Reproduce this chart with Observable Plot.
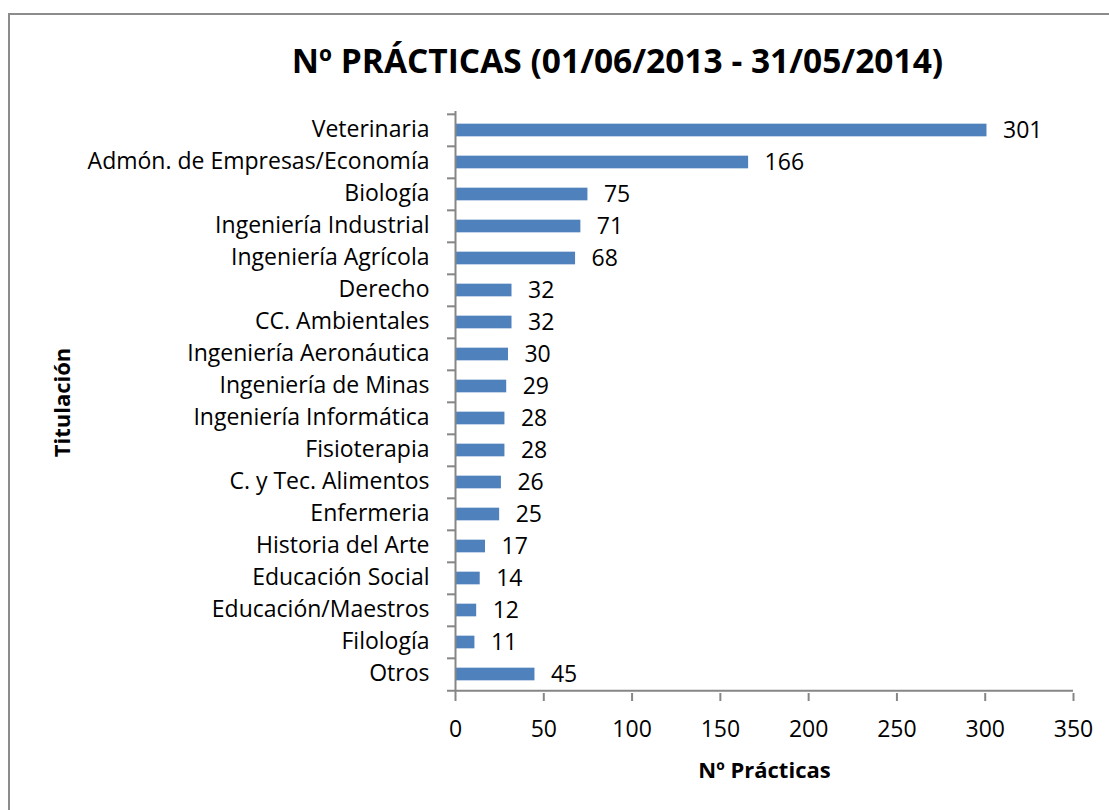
<!DOCTYPE html>
<html><head><meta charset="utf-8">
<script src="https://cdn.jsdelivr.net/npm/d3@7"></script>
<script src="https://cdn.jsdelivr.net/npm/@observablehq/plot@0.6"></script>
<style>
html,body{margin:0;padding:0;background:#fff;overflow:hidden;}
#wrap{position:relative;width:1109px;height:810px;overflow:hidden;background:#fff;}
#border{position:absolute;left:8px;top:13px;width:1200px;height:900px;border:2px solid #8c8c8c;}
#chart{position:absolute;left:0;top:0;}
</style></head><body>
<div id="wrap"><div id="border"></div><div id="chart"></div></div>
<script>
const categories = ["Veterinaria","Admón. de Empresas/Economía","Biología","Ingeniería Industrial","Ingeniería Agrícola","Derecho","CC. Ambientales","Ingeniería Aeronáutica","Ingeniería de Minas","Ingeniería Informática","Fisioterapia","C. y Tec. Alimentos","Enfermeria","Historia del Arte","Educación Social","Educación/Maestros","Filología","Otros"];
const values = [301,166,75,71,68,32,32,30,29,28,28,26,25,17,14,12,11,45];
const xTicks = [0,50,100,150,200,250,300,350];
const titleText = "Nº PRÁCTICAS (01/06/2013 - 31/05/2014)";
const xLabel = "Nº Prácticas";
const yLabel = "Titulación";

const data = categories.map((c,i)=>({cat:c, value:values[i]}));
const W=1109, H=810, mL=455, mR=36, mT=111, mB=117;
const fw = W-mL-mR, fh = H-mT-mB;
const step = fh/categories.length;
const barH = 13;
const font = "'Open Sans', sans-serif";
const axisColor = "#868686";
const barColor = "#4F81BD";
const fs = 23;

const plot = Plot.plot({
  width:W, height:H, marginLeft:mL, marginRight:mR, marginTop:mT, marginBottom:mB,
  style:{fontFamily:font, fontSize:fs+"px", color:"#000", background:"transparent", overflow:"visible"},
  x:{domain:[0,350]},
  y:{domain:categories, padding:0},
  marks:[
    Plot.barX(data,{x:"value", y:"cat", fill:barColor, insetTop:(step-barH)/2, insetBottom:(step-barH)/2}),
    Plot.ruleX([0],{stroke:axisColor, strokeWidth:2}),
    Plot.ruleY(categories,{y:d=>d, dy:-step/2, insetLeft:-8, insetRight:fw, stroke:axisColor, strokeWidth:2}),
    Plot.ruleY([categories[categories.length-1]],{y:d=>d, dy:step/2, insetLeft:-8, stroke:axisColor, strokeWidth:2}),
    Plot.ruleX(xTicks,{x:d=>d, insetTop:fh, insetBottom:-8, stroke:axisColor, strokeWidth:2}),
    Plot.axisX({ticks:xTicks, tickSize:0, tickPadding:27, tickFormat:d=>String(d), label:null, fontSize:fs, fill:"#000"}),
    Plot.axisY({tickSize:0, tickPadding:26, label:null, fontSize:fs, fill:"#000", dy:-1}),
    Plot.text(data,{x:"value", y:"cat", text:d=>String(d.value), textAnchor:"start", dx:16, dy:0, fontSize:fs, fill:"#000"}),
    Plot.text([titleText],{text:d=>d, frameAnchor:"top", lineAnchor:"middle", dx:-147, dy:-49, fontSize:33.5, fontWeight:"bold", fill:"#000"}),
    Plot.text([xLabel],{text:d=>d, frameAnchor:"bottom", lineAnchor:"middle", dy:77, fontSize:22, fontWeight:"bold", fill:"#000"}),
    Plot.text([yLabel],{text:d=>d, frameAnchor:"left", textAnchor:"middle", lineAnchor:"middle", dx:-393, rotate:-90, fontSize:22, fontWeight:"bold", fill:"#000"})
  ]
});
document.getElementById("chart").appendChild(plot);
</script>
</body></html>
